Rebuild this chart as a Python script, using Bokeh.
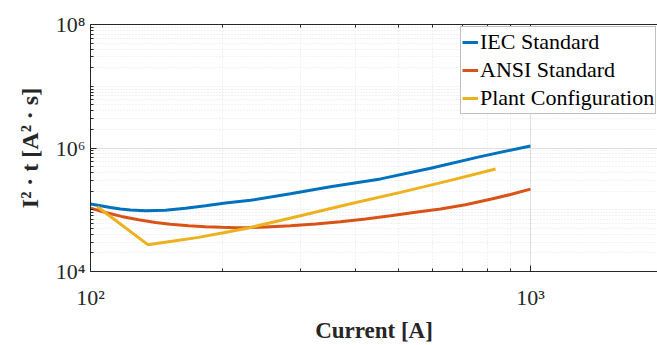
from bokeh.plotting import figure
from bokeh.models import FixedTicker, LogAxis, Legend, LegendItem, CustomJSTickFormatter
from bokeh.embed import file_html
from bokeh.resources import INLINE

# ---- data ----
iec_x = [100, 105.4, 111.0, 117.0, 123.3, 133.4, 148.0, 164.4, 182.6, 202.7, 231, 284.8,
         351, 456.5, 593, 769, 1000]
iec_y = [1.236e5, 1.16e5, 1.084e5, 1.03e5, 9.93e4, 9.64e4, 9.81e4, 1.054e5, 1.16e5, 1.282e5,
         1.42e5, 1.81e5, 2.35e5, 3.16e5, 4.71e5, 7.25e5, 1.077e6]

ansi_x = [100, 108.2, 117.6, 128.6, 140.5, 152, 167, 182.5, 198.5, 213.6, 228.5, 249.8,
          284.8, 324.6, 370, 421.7, 481, 547.7, 624.5, 711.6, 811, 900.6, 1000]
ansi_y = [1.064e5, 9.02e4, 7.8e4, 6.9e4, 6.24e4, 5.82e4, 5.52e4, 5.3e4, 5.19e4, 5.13e4, 5.14e4,
          5.26e4, 5.52e4, 5.88e4, 6.4e4, 7.11e4, 8.0e4, 9.12e4, 1.026e5, 1.205e5, 1.476e5,
          1.766e5, 2.158e5]

plant_x = [103.7, 135, 156, 176, 200.6, 228.5, 300, 389.9, 506.5, 657.7, 833]
plant_y = [1.117e5, 2.72e4, 3.16e4, 3.57e4, 4.23e4, 5.07e4, 8.0e4, 1.25e5, 1.914e5, 2.99e5, 4.58e5]

x_major = [100, 1000]
x_minor = [200, 300, 400, 500, 600, 700, 800, 900, 2000]
y_major = [1e4, 1e6, 1e8]
y_minor = [k * 10 ** n for n in range(4, 8) for k in range(1, 10) if not (k == 1 and n % 2 == 0)]

labels = ["IEC Standard", "ANSI Standard", "Plant Configuration"]
colors = ["#0072BD", "#D95319", "#EDB120"]

FONT = "Liberation Serif"
TXT = "#262626"

p = figure(width=657, height=345, x_axis_type="log", y_axis_type="log",
           x_range=(100, 1944), y_range=(1e4, 1e8),
           output_backend="svg", toolbar_location=None,
           min_border_left=90, min_border_right=0, min_border_top=24, min_border_bottom=73)
p.outline_line_color = None
p.background_fill_color = "white"
p.border_fill_color = "white"

fmt = CustomJSTickFormatter(code="""
const sup = {"0":"\\u2070","1":"\\u00b9","2":"\\u00b2","3":"\\u00b3","4":"\\u2074","5":"\\u2075","6":"\\u2076","7":"\\u2077","8":"\\u2078","9":"\\u2079"};
const e = String(Math.round(Math.log10(tick)));
let s = "";
for (const c of e) { s += sup[c]; }
return "10" + s;
""")

xt = FixedTicker(ticks=x_major, minor_ticks=x_minor)
yt = FixedTicker(ticks=y_major, minor_ticks=y_minor)

for ax, tk in ((p.xaxis[0], xt), (p.yaxis[0], yt)):
    ax.ticker = tk
    ax.formatter = fmt
    ax.major_label_text_font = FONT
    ax.major_label_text_font_size = "22px"
    ax.major_label_text_color = TXT
    ax.axis_line_color = TXT
    ax.major_tick_line_color = TXT
    ax.minor_tick_line_color = TXT
    ax.major_tick_in = 6
    ax.major_tick_out = 0
    ax.minor_tick_in = 3
    ax.minor_tick_out = 0
    ax.axis_label_text_font = FONT
    ax.axis_label_text_font_style = "bold"
    ax.axis_label_text_color = TXT

p.xaxis.axis_label = "Current [A]"
p.xaxis.axis_label_text_font_size = "23px"
p.xaxis.major_label_standoff = 13
p.xaxis.axis_label_standoff = 5

p.yaxis.axis_label = "I² · t [A² · s]"
p.yaxis.axis_label_text_font_size = "24px"
p.yaxis.major_label_standoff = 5
p.yaxis.axis_label_standoff = 10

top = LogAxis(ticker=xt, major_label_text_font_size="1px", major_label_text_color=None,
              major_label_standoff=0,
              axis_line_color=TXT, major_tick_line_color=TXT, minor_tick_line_color=TXT,
              major_tick_in=6, major_tick_out=0, minor_tick_in=3, minor_tick_out=0)
p.add_layout(top, "above")

for g in (p.xgrid[0], p.ygrid[0]):
    g.grid_line_color = "#dedede"
    g.grid_line_width = 1
    g.minor_grid_line_color = "#e4e4e4"
    g.minor_grid_line_dash = "1 2"

r1 = p.line(iec_x, iec_y, line_color=colors[0], line_width=3)
r2 = p.line(ansi_x, ansi_y, line_color=colors[1], line_width=3)
r3 = p.line(plant_x, plant_y, line_color=colors[2], line_width=3)

legend = Legend(items=[LegendItem(label=labels[0], renderers=[r1]),
                       LegendItem(label=labels[1], renderers=[r2]),
                       LegendItem(label=labels[2], renderers=[r3])],
                location=(370, 157))
legend.label_text_font = FONT
legend.label_text_font_size = "22px"
legend.label_text_color = "black"
legend.glyph_width = 16
legend.glyph_height = 28
legend.label_height = 28
legend.label_standoff = 2
legend.spacing = 0
legend.padding = 1
legend.margin = 0
legend.border_line_color = "#808080"
legend.border_line_width = 1
legend.background_fill_color = "white"
legend.background_fill_alpha = 1
p.add_layout(legend, "center")

open("out.html", "w").write(file_html(p, INLINE))
